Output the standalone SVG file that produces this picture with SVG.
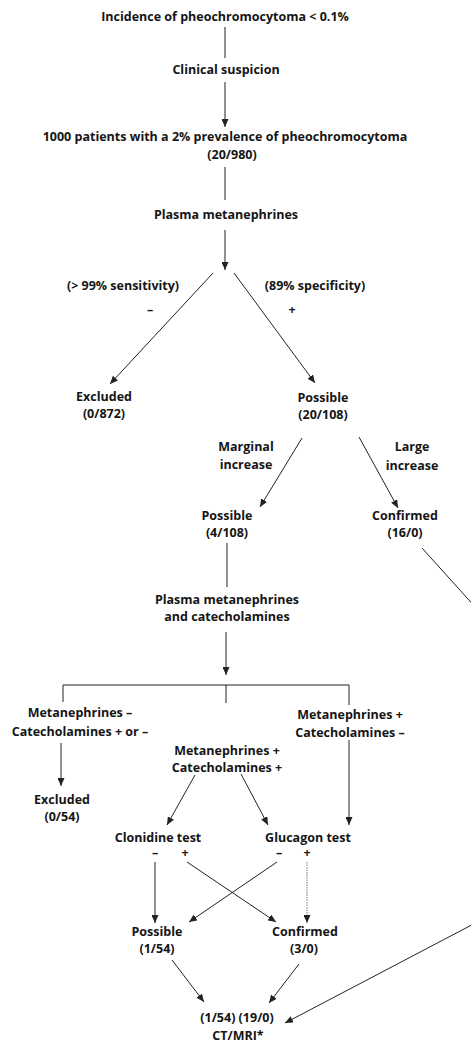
<svg xmlns="http://www.w3.org/2000/svg" width="471" height="1042" viewBox="0 0 471 1042">
<style>
text{font-family:"Open Sans","Liberation Sans",sans-serif;font-weight:700;font-size:12.5px;fill:#151515;text-anchor:middle}
.c{fill:none;stroke:#222;stroke-width:1}
.a{marker-end:url(#ah)}
.dot{stroke:#777;stroke-dasharray:1.5 1}
</style>
<defs>
<marker id="ah" markerUnits="userSpaceOnUse" markerWidth="8" markerHeight="7" refX="8" refY="3.5" orient="auto">
<path d="M0,0 L8,3.5 L0,7 z" fill="#222"/>
</marker>
</defs>
<g id="connectors">
<path class="c" d="M225,27 V58"/>
<path class="c a" d="M225,82 V127"/>
<path class="c" d="M225,167 V200"/>
<path class="c a" d="M225,230 V270"/>
<path class="c a" d="M213,273 L110,384"/>
<path class="c a" d="M234,273 L315,383"/>
<path class="c a" d="M302,438 L260,507"/>
<path class="c a" d="M359,437 L398,508"/>
<path class="c" d="M227,543 V587"/>
<path class="c a" d="M226,632 V675"/>
<path class="c" d="M63,702 V685 H349 V705 M226,685 V703"/>
<path class="c a" d="M61,743 V786"/>
<path class="c a" d="M349,740 V825"/>
<path class="c a" d="M195,775 L167,825"/>
<path class="c a" d="M241,774 L268,825"/>
<path class="c a" d="M155,862 V923"/>
<path class="c a" d="M187,862 L276,922"/>
<path class="c a" d="M277,862 L189,922"/>
<path class="c a dot" d="M307,862 V923"/>
<path class="c a" d="M172,960 L204,1002"/>
<path class="c a" d="M299,964 L269,1003"/>
<path class="c a" d="M422,548 L471.6,603 V925 L285,1023"/>
</g>
<g id="n-incidence"><text x="225" y="21">Incidence of pheochromocytoma &lt; 0.1%</text></g>
<g id="n-clinical"><text x="226" y="74">Clinical suspicion</text></g>
<g id="n-1000"><text x="225" y="141">1000 patients with a 2% prevalence of pheochromocytoma</text><text x="232" y="159">(20/980)</text></g>
<g id="n-plasma1"><text x="226" y="219">Plasma metanephrines</text></g>
<g id="l-sens"><text x="123" y="290">(&gt; 99% sensitivity)</text><text x="150" y="314">–</text></g>
<g id="l-spec"><text x="315" y="290">(89% specificity)</text><text x="292" y="314">+</text></g>
<g id="n-excluded1"><text x="104" y="401">Excluded</text><text x="104" y="418">(0/872)</text></g>
<g id="n-possible1"><text x="323" y="402">Possible</text><text x="323" y="419">(20/108)</text></g>
<g id="l-marginal"><text x="246" y="451">Marginal</text><text x="246" y="469">increase</text></g>
<g id="l-large"><text x="412" y="451">Large</text><text x="412" y="470">increase</text></g>
<g id="n-possible2"><text x="227" y="520">Possible</text><text x="227" y="537">(4/108)</text></g>
<g id="n-confirmed1"><text x="405" y="520">Confirmed</text><text x="405" y="537">(16/0)</text></g>
<g id="n-plasma2"><text x="227" y="604">Plasma metanephrines</text><text x="227" y="621">and catecholamines</text></g>
<g id="n-metneg"><text x="80" y="717">Metanephrines –</text><text x="80" y="736">Catecholamines + or –</text></g>
<g id="n-metpos-catneg"><text x="350" y="719">Metanephrines +</text><text x="350" y="737">Catecholamines –</text></g>
<g id="n-metpos-catpos"><text x="227" y="755">Metanephrines +</text><text x="227" y="772">Catecholamines +</text></g>
<g id="n-excluded2"><text x="62" y="804">Excluded</text><text x="62" y="821">(0/54)</text></g>
<g id="n-clonidine"><text x="158" y="842">Clonidine test</text><text x="155" y="857">–</text><text x="185" y="857">+</text></g>
<g id="n-glucagon"><text x="308" y="842">Glucagon test</text><text x="279" y="857">–</text><text x="307" y="857">+</text></g>
<g id="n-possible3"><text x="157" y="936">Possible</text><text x="157" y="953">(1/54)</text></g>
<g id="n-confirmed2"><text x="305" y="936">Confirmed</text><text x="304" y="953">(3/0)</text></g>
<g id="n-ctmri"><text x="237" y="1022">(1/54) (19/0)</text><text x="238" y="1040">CT/MRI*</text></g>
</svg>
